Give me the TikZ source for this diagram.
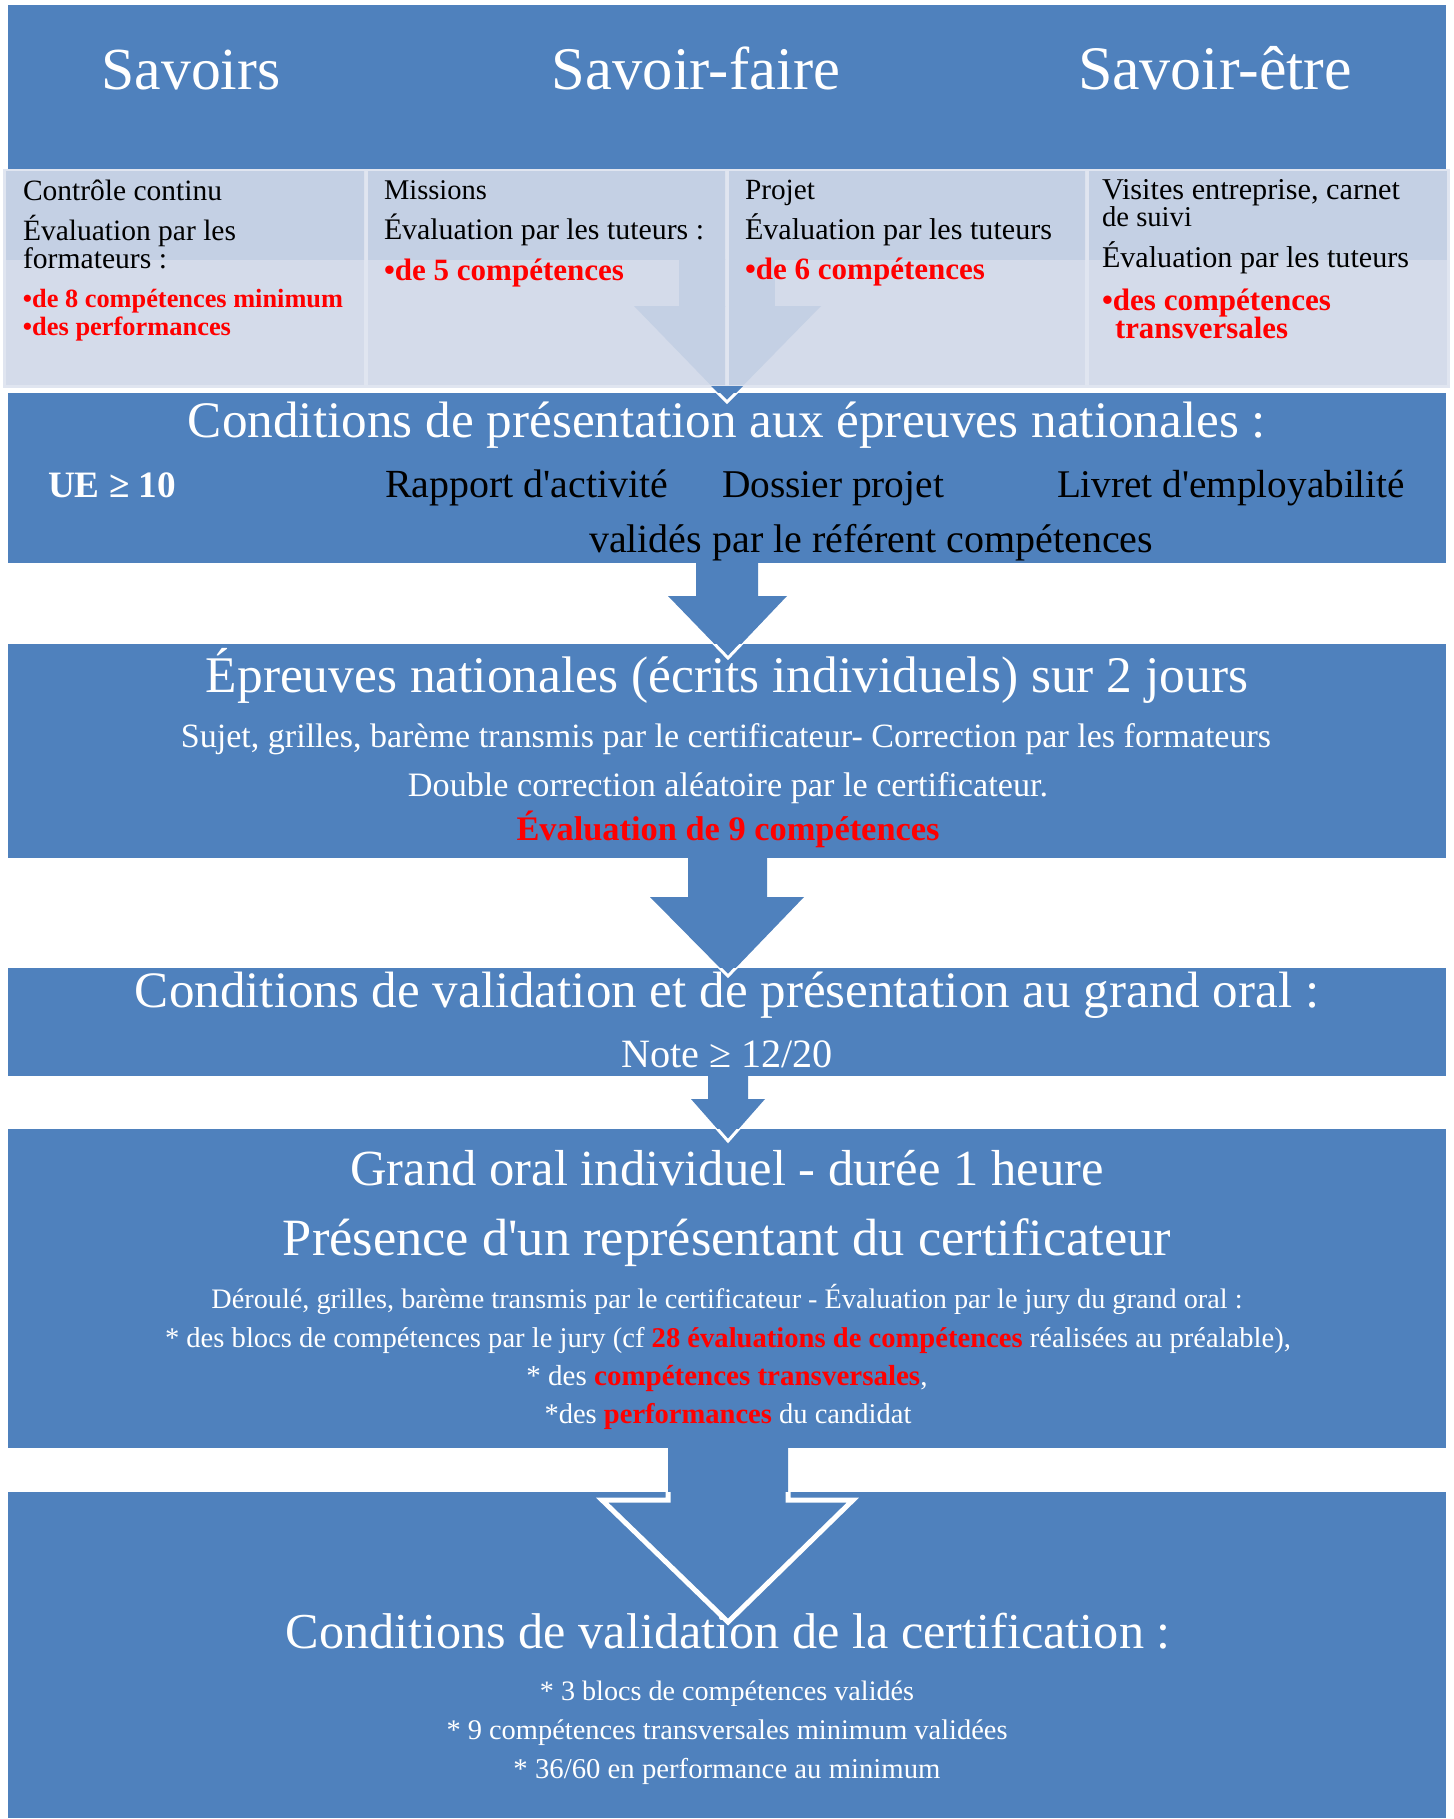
\documentclass[tikz,border=0pt]{standalone}
\usepackage{fontspec}
\setmainfont{Liberation Serif}[Ligatures=TeXOff]
\usepackage{graphicx}
\definecolor{bandblue}{RGB}{79,129,189}
\definecolor{lightcol}{RGB}{212,219,234}
\definecolor{darkcol}{RGB}{196,208,228}
\definecolor{sepcol}{RGB}{224,229,240}
\definecolor{redtxt}{RGB}{255,0,0}
\newcommand\fitw[2]{\resizebox{#1pt}{!}{#2}}
\newcommand\rb[1]{\textbf{\textcolor{redtxt}{#1}}}
\begin{document}
\begin{tikzpicture}[x=0.5pt,y=-0.5pt,
  ctxt/.style={inner sep=0pt,outer sep=0pt,anchor=base},
  ltxt/.style={inner sep=0pt,outer sep=0pt,anchor=base west},
  wc/.style={ctxt,text=white},
  kc/.style={ctxt,text=black},
  kl/.style={ltxt,text=black},
  wl/.style={ltxt,text=white},
  band/.style={fill=bandblue},
  blockarrow/.style={fill=bandblue},
  arrowedge/.style={draw=white,line width=1.5pt,line join=miter},
  bigedge/.style={draw=white,line width=2.5pt,line join=miter}]
\useasboundingbox (0,0) rectangle (1454,1819);
\fill[white] (0,0) rectangle (1454,1819);

% ---------- band 1 : headers
\fill[band] (8,5) rectangle (1446,169);

% ---------- row 2 : four light columns
\fill[sepcol] (3,169) rectangle (1450,388);
\fill[lightcol] (6,171) rectangle (364,385);
\fill[lightcol] (368,171) rectangle (725,385);
\fill[lightcol] (729,171) rectangle (1085,385);
\fill[lightcol] (1089,171) rectangle (1447,385);
\begin{scope}
  \clip (6,171) rectangle (364,385) (368,171) rectangle (725,385)
        (729,171) rectangle (1085,385) (1089,171) rectangle (1447,385);
  \fill[darkcol] (6,171) rectangle (1447,260);
  \fill[darkcol] (679,259) rectangle (775,307);
  \fill[darkcol] (634,306) -- (821,306) -- (727,402) -- cycle;
\end{scope}

% ---------- bands
\fill[band] (8,393) rectangle (1446,563);
\fill[band] (8,644) rectangle (1446,858);
\fill[band] (8,968) rectangle (1446,1076);
\fill[band] (8,1129) rectangle (1446,1448);
\fill[band] (8,1492) rectangle (1446,1818);

% ---------- block arrows
\fill[blockarrow] (711,386) -- (743,386) -- (727,402) -- cycle;
\begin{scope}
  \clip (8,393) rectangle (1446,563);
  \draw[arrowedge] (711,386) -- (727,402) -- (743,386);
\end{scope}

\fill[blockarrow] (696,562) -- (696,596) -- (668,596) -- (728,658) -- (787,596) -- (758,596) -- (758,562) -- cycle;
\begin{scope}
  \clip (8,644) rectangle (1446,858);
  \draw[arrowedge] (696,563) -- (696,596) -- (668,596) -- (728,658) -- (787,596) -- (758,596) -- (758,563);
\end{scope}

\fill[blockarrow] (688,857) -- (688,897) -- (650,897) -- (728,976) -- (804,897) -- (767,897) -- (767,857) -- cycle;
\begin{scope}
  \clip (8,968) rectangle (1446,1076);
  \draw[arrowedge] (688,858) -- (688,897) -- (650,897) -- (728,976) -- (804,897) -- (767,897) -- (767,858);
\end{scope}

\fill[blockarrow] (708,1075) -- (708,1099) -- (691,1099) -- (728,1141) -- (765,1099) -- (748,1099) -- (748,1075) -- cycle;
\begin{scope}
  \clip (8,1129) rectangle (1446,1448);
  \draw[arrowedge] (708,1076) -- (708,1099) -- (691,1099) -- (728,1141) -- (765,1099) -- (748,1099) -- (748,1076);
\end{scope}

\fill[blockarrow] (668,1447) -- (668,1500) -- (602,1500) -- (728,1622) -- (853,1500) -- (788,1500) -- (788,1447) -- cycle;
\begin{scope}
  \clip (8,1492) rectangle (1446,1818);
  \draw[bigedge] (668,1449) -- (668,1500) -- (602,1500) -- (728,1622) -- (853,1500) -- (788,1500) -- (788,1449);
\end{scope}

% ---------- header texts
\node[wc] (h1) at (191,90) {\fitw{89.5}{Savoirs}};
\node[wc] (h2) at (696,90) {\fitw{144}{Savoir-faire}};
\node[wc] (h3) at (1215,90) {\fitw{137}{Savoir-être}};

% ---------- column texts
\node[kl] (c1a) at (23,200) {\fitw{99.5}{Contrôle continu}};
\node[kl] (c1b) at (23,240) {\fitw{106.5}{Évaluation par les}};
\node[kl] (c1c) at (23,268) {\fitw{72}{formateurs :}};
\node[kl] (c1d) at (23,307) {\fitw{160}{\rb{•de 8 compétences minimum}}};
\node[kl] (c1e) at (23,335) {\fitw{104}{\rb{•des performances}}};

\node[kl] (c2a) at (384,200) {\fitw{51.5}{Missions}};
\node[kl] (c2b) at (384,240) {\fitw{160}{Évaluation par les tuteurs :}};
\node[kl] (c2c) at (384,280) {\fitw{120}{\rb{•de 5 compétences}}};

\node[kl] (c3a) at (745,200) {\fitw{35}{Projet}};
\node[kl] (c3b) at (745,240) {\fitw{153.5}{Évaluation par les tuteurs}};
\node[kl] (c3c) at (745,279) {\fitw{120}{\rb{•de 6 compétences}}};

\node[kl] (c4a) at (1102,199) {\fitw{149}{Visites entreprise, carnet}};
\node[kl] (c4b) at (1102,227) {\fitw{45}{de suivi}};
\node[kl] (c4c) at (1102,268) {\fitw{153.5}{Évaluation par les tuteurs}};
\node[kl] (c4d) at (1102,310) {\fitw{114.5}{\rb{•des compétences}}};
\node[kl] (c4e) at (1115,338) {\fitw{86.5}{\rb{transversales}}};

% ---------- band 2 texts
\node[wc] (b2t) at (727,437) {\fitw{539}{Conditions de présentation aux épreuves nationales :}};
\node[wl] (b2ue) at (48,497) {\fitw{64}{\textbf{UE ≥ 10}}};
\node[kl] (b2r) at (385,497) {\fitw{141.5}{Rapport d'activité}};
\node[kl] (b2d) at (722,497) {\fitw{111}{Dossier projet}};
\node[kl] (b2l) at (1057,497) {\fitw{174}{Livret d'employabilité}};
\node[kl] (b2v) at (589,552) {\fitw{282}{validés par le référent compétences}};

% ---------- band 3 texts
\node[wc] (b3t) at (727,692) {\fitw{521}{Épreuves nationales (écrits individuels) sur 2 jours}};
\node[wc] (b3a) at (726,747) {\fitw{545}{Sujet, grilles, barème transmis par le certificateur- Correction par les formateurs}};
\node[wc] (b3b) at (728,796) {\fitw{320}{Double correction aléatoire par le certificateur.}};
\node[wc] (b3c) at (728,840) {\fitw{211.5}{\rb{Évaluation de 9 compétences}}};

% ---------- band 4 texts
\node[wc] (b4t) at (727,1007) {\fitw{592}{Conditions de validation et de présentation au grand oral :}};
\node[wc] (b4a) at (727,1067) {\fitw{106}{Note ≥ 12/20}};

% ---------- band 5 texts
\node[wc] (b5t) at (727,1185) {\fitw{376.5}{Grand oral individuel - durée 1 heure}};
\node[wc] (b5u) at (727,1255) {\fitw{444}{Présence d'un représentant du certificateur}};
\node[wc] (b5a) at (727,1308) {\fitw{515.5}{Déroulé, grilles, barème transmis par le certificateur - Évaluation par le jury du grand oral :}};
\node[wc] (b5b) at (728,1347) {\fitw{563}{* des blocs de compétences par le jury (cf \rb{28 évaluations de compétences} réalisées au préalable),}};
\node[wc] (b5c) at (727,1385) {\fitw{200.5}{* des \rb{compétences transversales},}};
\node[wc] (b5d) at (728,1423) {\fitw{183.5}{*des \rb{performances} du candidat}};

% ---------- band 6 texts
\node[wc] (b6t) at (728,1648) {\fitw{442.5}{Conditions de validation de la certification :}};
\node[wc] (b6a) at (727,1700) {\fitw{187}{* 3 blocs de compétences validés}};
\node[wc] (b6b) at (727,1739) {\fitw{280.5}{* 9 compétences transversales minimum validées}};
\node[wc] (b6c) at (727,1778) {\fitw{213.5}{* 36/60 en performance au minimum}};
\end{tikzpicture}
\end{document}
